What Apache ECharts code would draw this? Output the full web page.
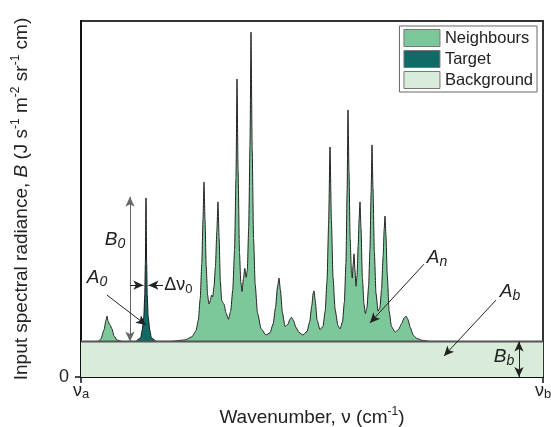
<!DOCTYPE html>
<html>
<head>
<meta charset="utf-8">
<script src="https://cdn.jsdelivr.net/npm/echarts@6/dist/echarts.min.js"></script>
<style>
  html, body { margin: 0; padding: 0; background: #fff; }
  #main { width: 551px; height: 427px; }
</style>
</head>
<body>
<div id="main"></div>
<script>
// 数据：横轴 νa=0 到 νb=100，纵轴任意单位（背景 Bb = 1）
var neighbours = [
  [0, 0.98], [3.68, 1.00], [4.33, 1.07], [4.98, 1.32], [5.41, 1.60], [5.63, 1.71], [5.84, 1.57],
  [6.28, 1.46], [6.71, 1.35], [7.14, 1.15], [7.79, 1.04], [8.87, 1.00],
  [19.26, 1.00], [22.51, 1.04], [24.03, 1.13], [24.89, 1.30], [25.40, 1.60], [25.80, 2.20],
  [26.15, 3.20], [26.40, 4.40], [26.62, 5.48], [26.85, 4.40], [27.10, 3.10], [27.40, 2.30],
  [27.71, 2.05], [28.00, 2.15], [28.25, 2.30], [28.50, 2.25], [28.80, 2.55], [29.10, 3.10],
  [29.40, 4.10], [29.65, 4.92], [29.90, 3.90], [30.15, 2.70], [30.45, 2.15], [30.74, 2.08],
  [30.95, 2.05], [31.39, 1.80], [31.90, 1.62], [32.40, 1.85], [32.85, 2.45], [33.25, 3.60],
  [33.55, 5.60], [33.77, 8.37], [34.00, 5.80], [34.30, 3.50], [34.60, 2.65], [34.85, 2.40],
  [35.15, 2.75], [35.45, 3.05], [35.75, 2.80], [36.00, 3.00], [36.30, 4.20], [36.58, 6.50],
  [36.80, 9.69], [37.05, 6.40], [37.35, 3.90], [37.70, 2.60], [38.20, 1.80], [39.00, 1.35],
  [40.04, 1.18], [40.91, 1.24], [41.60, 1.50], [42.10, 1.95], [42.55, 2.55], [42.86, 2.78],
  [43.15, 2.45], [43.60, 1.80], [44.16, 1.42], [44.81, 1.48], [45.20, 1.62], [45.55, 1.68],
  [45.95, 1.60], [46.50, 1.40], [47.19, 1.25], [48.05, 1.18], [48.92, 1.28], [49.50, 1.55],
  [49.95, 2.00], [50.25, 2.35], [50.43, 2.42], [50.70, 2.15], [51.10, 1.60], [51.73, 1.33],
  [52.38, 1.42], [52.85, 1.85], [53.25, 2.70], [53.60, 4.30], [53.90, 6.46], [54.20, 4.40],
  [54.55, 2.80], [55.00, 1.90], [55.60, 1.45], [56.06, 1.35], [56.60, 1.55], [57.00, 2.10],
  [57.35, 3.20], [57.60, 5.20], [57.79, 7.50], [58.00, 5.80], [58.25, 3.90], [58.55, 2.90],
  [58.72, 2.78], [58.90, 3.15], [59.09, 3.46], [59.30, 3.00], [59.52, 2.55], [59.75, 2.85],
  [60.00, 3.70], [60.20, 4.45], [60.39, 4.92], [60.60, 4.20], [60.90, 2.80], [61.25, 2.05],
  [61.55, 1.78], [61.90, 1.95], [62.25, 2.55], [62.55, 3.60], [62.80, 5.20], [62.99, 6.52],
  [63.20, 5.30], [63.50, 3.50], [63.85, 2.35], [64.29, 1.85], [64.70, 1.95], [65.05, 2.45],
  [65.40, 3.40], [65.62, 4.15], [65.80, 4.52], [66.00, 4.00], [66.30, 2.85], [66.70, 1.85],
  [67.20, 1.42], [67.97, 1.26], [68.70, 1.33], [69.40, 1.50], [69.95, 1.66], [70.35, 1.71],
  [70.75, 1.62], [71.30, 1.38], [71.90, 1.18], [72.60, 1.09], [73.81, 1.03], [75.54, 1.00],
  [100, 0.98]
];
var target = [
  [11.90, 1.00], [12.90, 1.10], [13.25, 1.32], [13.60, 1.69], [13.80, 2.30], [13.93, 3.20],
  [14.07, 5.03], [14.21, 3.20], [14.34, 2.30], [14.54, 1.69], [14.89, 1.32], [15.24, 1.10],
  [16.23, 1.00]
];
var background = [[0, 1], [100, 1]];
var xTickLabels = ['{n|ν}{s|a}', '{n|ν}{s|b}'];
var yTickLabels = ['0'];

var FONT = 'Liberation Sans, Arial, sans-serif';
var chart = echarts.init(document.getElementById('main'));

// 注释箭头（数据坐标）
var arrows = [
  { from: [10.6, 1.0], to: [10.6, 5.06], both: true, color: '#666' },   // B0
  { from: [5.63, 2.30], to: [14.07, 1.46] },                              // A0
  { from: [10.6, 2.58], to: [13.5, 2.58] },                               // Δν0 左
  { from: [17.75, 2.58], to: [14.6, 2.58] },                              // Δν0 右
  { from: [74.24, 3.17], to: [62.55, 1.52] },                             // An
  { from: [89.83, 2.16], to: [78.57, 0.59] },                             // Ab
  { from: [94.8, 0], to: [94.8, 1.0], both: true }                        // Bb
];
var markLineData = arrows.map(function (a) {
  return [
    { coord: a.from, symbol: a.both ? 'arrow' : 'none',
      lineStyle: { color: a.color || '#222', width: 1, type: 'solid' } },
    { coord: a.to, symbol: 'arrow' }
  ];
});

var option = {
  animation: false,
  grid: {
    left: 81, right: 8, top: 21, bottom: 50,
    outerBoundsMode: 'none', containLabel: false,
    show: true, borderColor: '#333', borderWidth: 2
  },
  legend: {
    orient: 'vertical',
    right: 14, top: 26,
    itemWidth: 36, itemHeight: 17, itemGap: 3,
    padding: [3, 4, 3, 4],
    borderColor: '#666', borderWidth: 1,
    textStyle: { fontFamily: FONT, fontSize: 16.5, color: '#222' },
    data: [
      { name: 'Neighbours', icon: 'rect', itemStyle: { color: '#7dc89b', borderColor: '#777', borderWidth: 1 } },
      { name: 'Target', icon: 'rect', itemStyle: { color: '#0f6b68', borderColor: '#777', borderWidth: 1 } },
      { name: 'Background', icon: 'rect', itemStyle: { color: '#d9ecd9', borderColor: '#777', borderWidth: 1 } }
    ]
  },
  xAxis: {
    type: 'value', min: 0, max: 100, interval: 100,
    name: 'Wavenumber, ν (cm{sup|-1})',
    nameLocation: 'middle', nameGap: 21,
    nameTextStyle: {
      fontFamily: FONT, fontSize: 19, color: '#222', lineHeight: 24,
      rich: { sup: { fontFamily: FONT, fontSize: 12, color: '#222', verticalAlign: 'top', lineHeight: 13 } }
    },
    axisLine: { lineStyle: { color: '#111', width: 2 } },
    axisTick: { length: 6, lineStyle: { color: '#111', width: 1.5 } },
    splitLine: { show: false },
    axisLabel: {
      margin: 4,
      formatter: function (v) { return v === 0 ? xTickLabels[0] : xTickLabels[1]; },
      rich: {
        n: { fontFamily: FONT, fontSize: 18, color: '#222', lineHeight: 20 },
        s: { fontFamily: FONT, fontSize: 13, color: '#222', verticalAlign: 'bottom', lineHeight: 12 }
      }
    }
  },
  yAxis: {
    type: 'value', min: 0, max: 10,
    name: 'Input spectral radiance, {i|B} (J s{sup|-1} m{sup|-2} sr{sup|-1} cm)',
    nameLocation: 'middle', nameGap: 47, nameRotate: 90,
    nameTextStyle: {
      fontFamily: FONT, fontSize: 19, color: '#222', lineHeight: 24,
      rich: {
        i: { fontFamily: FONT, fontSize: 19, fontStyle: 'italic', color: '#222' },
        sup: { fontFamily: FONT, fontSize: 12, color: '#222', verticalAlign: 'top', lineHeight: 13 }
      }
    },
    axisLine: { show: true, lineStyle: { color: '#111', width: 2 } },
    axisTick: { show: true, length: 6, customValues: [0], lineStyle: { color: '#111', width: 1.5 } },
    axisLabel: {
      customValues: [0], margin: 12,
      formatter: function (v) { return v === 0 ? yTickLabels[0] : ''; },
      fontFamily: FONT, fontSize: 18, color: '#222'
    },
    splitLine: { show: false }
  },
  series: [
    {
      name: 'Neighbours', type: 'line', data: neighbours, z: 2,
      showSymbol: false, symbol: 'none', smooth: 0.2, smoothMonotone: 'x',
      lineStyle: { color: '#222', width: 1 },
      itemStyle: { color: '#7dc89b' },
      areaStyle: { color: '#7dc89b', opacity: 1 }
    },
    {
      name: 'Target', type: 'line', data: target, z: 3,
      showSymbol: false, symbol: 'none', smooth: 0.2, smoothMonotone: 'x',
      lineStyle: { color: '#1a1a1a', width: 1 },
      itemStyle: { color: '#0f6b68' },
      areaStyle: { color: '#0f6b68', opacity: 1 }
    },
    {
      name: 'Background', type: 'line', data: background, z: 4,
      showSymbol: false, symbol: 'none',
      lineStyle: { color: '#555', width: 2 },
      itemStyle: { color: '#d9ecd9' },
      areaStyle: { color: '#d9ecd9', opacity: 1 }
    },
    {
      name: 'annotations', type: 'line', data: [], z: 10,
      markLine: {
        silent: true, symbolSize: [7, 10],
        label: { show: false },
        lineStyle: { color: '#222', width: 1, type: 'solid' },
        data: markLineData
      }
    }
  ]
};
chart.setOption(option);

// 文字注释
var labels = [
  { pos: [7.36, 3.85], text: '{i|B}{s|0}', align: 'center' },
  { pos: [3.46, 2.78], text: '{i|A}{s|0}', align: 'center' },
  { pos: [18.0, 2.58], text: '{n|Δν}{t|0}', align: 'left' },
  { pos: [77.06, 3.34], text: '{i|A}{s|n}', align: 'center' },
  { pos: [92.86, 2.39], text: '{i|A}{s|b}', align: 'center' },
  { pos: [91.56, 0.56], text: '{i|B}{s|b}', align: 'center' }
];
var rich = {
  i: { fontFamily: FONT, fontSize: 19, fontStyle: 'italic', fill: '#222', color: '#222', lineHeight: 22 },
  s: { fontFamily: FONT, fontSize: 14, fontStyle: 'italic', fill: '#222', color: '#222', verticalAlign: 'bottom', lineHeight: 13 },
  n: { fontFamily: FONT, fontSize: 18, fill: '#222', color: '#222', lineHeight: 22 },
  t: { fontFamily: FONT, fontSize: 13, fill: '#222', color: '#222', verticalAlign: 'bottom', lineHeight: 12 }
};
chart.setOption({
  graphic: labels.map(function (l) {
    var p = chart.convertToPixel({ gridIndex: 0 }, l.pos);
    return {
      type: 'text', x: p[0], y: p[1], z: 100,
      style: { text: l.text, rich: rich, align: l.align, verticalAlign: 'middle', fill: '#222' }
    };
  })
});
</script>
</body>
</html>
